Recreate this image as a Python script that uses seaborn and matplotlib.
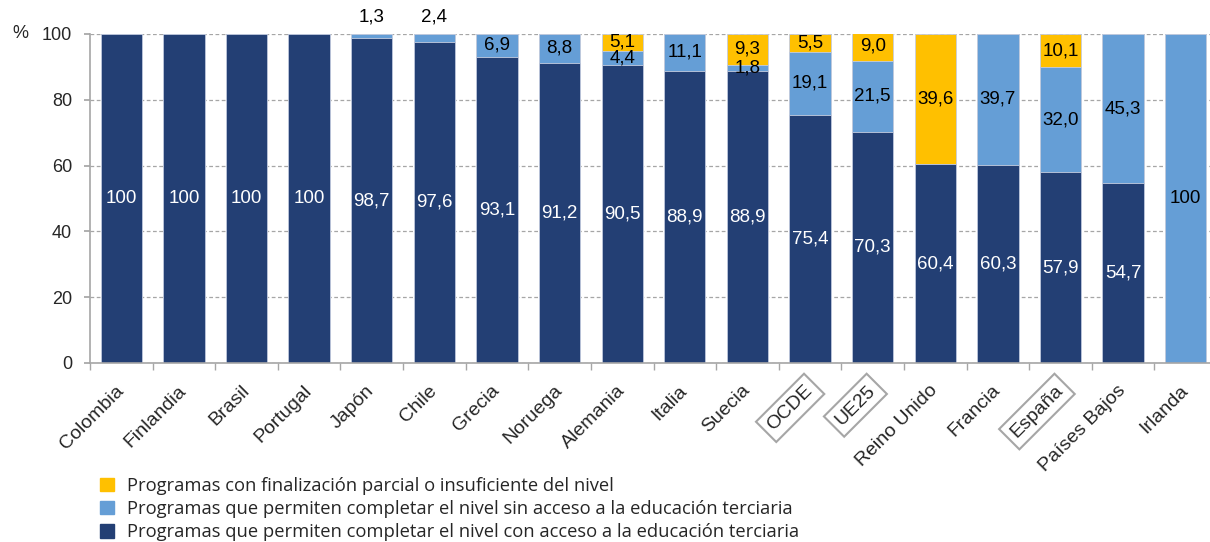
import pandas as pd
import matplotlib.pyplot as plt
import seaborn as sns
from matplotlib.patches import Patch
from matplotlib.ticker import FixedLocator

paises = ["Colombia", "Finlandia", "Brasil", "Portugal", "Japón", "Chile", "Grecia",
          "Noruega", "Alemania", "Italia", "Suecia", "OCDE", "UE25", "Reino Unido",
          "Francia", "España", "Países Bajos", "Irlanda"]
con_acceso = [100, 100, 100, 100, 98.7, 97.6, 93.1, 91.2, 90.5, 88.9, 88.9, 75.4,
              70.3, 60.4, 60.3, 57.9, 54.7, 0]
sin_acceso = [0, 0, 0, 0, 1.3, 2.4, 6.9, 8.8, 4.4, 11.1, 1.8, 19.1, 21.5, 0, 39.7,
              32.0, 45.3, 100]
parcial = [0, 0, 0, 0, 0, 0, 0, 0, 5.1, 0, 9.3, 5.5, 9.0, 39.6, 0, 10.1, 0, 0]
destacados = ["OCDE", "UE25", "España"]

etiquetas = ["Programas con finalización parcial o insuficiente del nivel",
             "Programas que permiten completar el nivel sin acceso a la educación terciaria",
             "Programas que permiten completar el nivel con acceso a la educación terciaria"]

c_parcial = "#FFC000"
c_sin = "#659ED6"
c_con = "#233F74"

df = pd.DataFrame({"pais": paises, "con": con_acceso, "sin": sin_acceso, "parcial": parcial})
df["nivel2"] = df["con"] + df["sin"]
df["total"] = df["nivel2"] + df["parcial"]

sns.set_theme(style="white")
plt.rcParams["font.family"] = ["Liberation Sans", "DejaVu Sans"]

fig = plt.figure(figsize=(12.1, 5.42), dpi=100)
ax = fig.add_axes([90 / 1210, 0.3303, 1127 / 1210, 0.607])

ancho = 0.66
kw = dict(width=ancho, edgecolor="#c5cde0", linewidth=0.6, zorder=2)
sns.barplot(data=df, x="pais", y="total", color=c_parcial, saturation=1, ax=ax, **kw)
sns.barplot(data=df, x="pais", y="nivel2", color=c_sin, saturation=1, ax=ax, **kw)
sns.barplot(data=df, x="pais", y="con", color=c_con, saturation=1, ax=ax, **kw)

# bars with zero height should not show an edge
for p in ax.patches:
    if p.get_height() == 0:
        p.set_visible(False)


def fmt(v):
    return "100" if v == 100 else f"{v:.1f}".replace(".", ",")


fs = 13
fs_val = 13.5
for i, row in df.iterrows():
    if row["con"] > 0:
        ax.text(i, row["con"] / 2, fmt(row["con"]), color="white", ha="center",
                va="center", fontsize=fs_val, zorder=3)
    if row["sin"] > 0:
        es_tope = row["parcial"] == 0
        if es_tope and row["sin"] < 3:
            ax.text(i, row["nivel2"] + 2.5, fmt(row["sin"]), color="black", ha="center",
                    va="bottom", fontsize=fs_val, zorder=3, clip_on=False)
        else:
            ax.text(i, row["con"] + row["sin"] / 2, fmt(row["sin"]), color="black",
                    ha="center", va="center", fontsize=fs_val, zorder=3)
    if row["parcial"] > 0:
        ax.text(i, row["nivel2"] + row["parcial"] / 2, fmt(row["parcial"]), color="black",
                ha="center", va="center", fontsize=fs_val, zorder=3)

ax.set_ylim(0, 100)
ax.set_xlim(-0.5, len(paises) - 0.5)
ax.set_yticks(range(0, 101, 20))
ax.yaxis.grid(True, linestyle=(0, (3, 2)), color="#a6a6a6", linewidth=0.9, zorder=0)
ax.set_axisbelow(True)
ax.set_xlabel("")
ax.set_ylabel("")

for s in ["top", "right"]:
    ax.spines[s].set_visible(False)
for s in ["left", "bottom"]:
    ax.spines[s].set_color("#a6a6a6")
    ax.spines[s].set_linewidth(1.2)

ax.tick_params(axis="y", which="major", left=True, length=4, color="#a6a6a6",
               labelsize=fs, pad=9)
ax.tick_params(axis="x", which="major", bottom=False, length=0, labelsize=14, pad=18)
ax.xaxis.set_minor_locator(FixedLocator([k - 0.5 for k in range(len(paises) + 1)]))
ax.tick_params(axis="x", which="minor", bottom=True, length=5, color="#a6a6a6")

for lab in ax.get_xticklabels():
    lab.set_rotation(45)
    lab.set_ha("right")
    lab.set_va("center")
    lab.set_rotation_mode("anchor")
    if lab.get_text() in destacados:
        lab.set_bbox(dict(boxstyle="square,pad=0.3", fc="white", ec="#a6a6a6", lw=1.5))

fig.text(20 / 1210, 1 - 34 / 542, "%", fontsize=fs, ha="center", va="center")

handles = [Patch(color=c) for c in [c_parcial, c_sin, c_con]]
fig.legend(handles, etiquetas, loc="upper left", bbox_to_anchor=(0.083, 0.12),
           frameon=False, prop={"family": "Open Sans", "size": 13.2}, handlelength=0.75,
           handleheight=0.75, handletextpad=0.7, labelspacing=0.28, borderpad=0,
           borderaxespad=0)

fig.savefig("out.png", dpi=100)
